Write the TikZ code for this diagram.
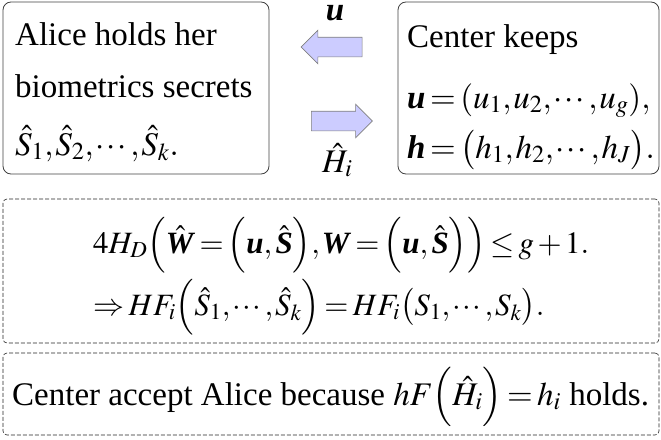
\documentclass[tikz,border=0pt]{standalone}
\usepackage{mathptmx}
\usepackage{amsmath}
\usepackage{fontspec}
\setmainfont{Liberation Serif}
\usetikzlibrary{shapes.arrows}

\definecolor{arrowfill}{RGB}{204,204,255}
\newcommand{\bvec}[1]{\textbf{\textit{#1}}}
\thickmuskip=2.5mu
\medmuskip=2mu
\thinmuskip=1mu

\tikzset{
	infobox/.style={draw=black!75, line width=0.8pt, rounded corners=8pt, inner sep=0pt},
	notebox/.style={draw=black!85, line width=0.6pt, dash pattern=on 4pt off 2pt, rounded corners=4pt, inner sep=0pt},
	sendarrow/.style={single arrow, draw=black!50, fill=arrowfill, line width=0.6pt, inner xsep=0pt, inner ysep=9.5pt,
		minimum height=61pt, single arrow head extend=7pt},
	txt/.style={anchor=base west, inner sep=0pt, font=\fontsize{33}{40}\selectfont},
	formula/.style={txt, font=\fontsize{31}{38}\selectfont},
}

\begin{document}
\begin{tikzpicture}[x=1pt, y=-1pt]
		\useasboundingbox (0,0) rectangle (661,439);
		% the two parties
		\node [infobox, minimum width=266pt, minimum height=172pt] (alice) at (136,88) {};
		\node [infobox, minimum width=261pt, minimum height=172pt] (center) at (528.5,88) {};
		\node [txt] (alicea) at (15,45) {Alice holds her};
		\node [txt] (aliceb) at (15,97) {biometrics secrets};
		\node [txt] (alicec) at (15,155) {$\hat{S}_1,\hat{S}_2,\cdots,\hat{S}_k.$};
		\node [txt] (centera) at (407,47) {Center keeps};
		\node [txt] (centerb) at (407,108) {$\bvec{u}=(u_1,u_2,\cdots,u_g),$};
		\node [txt] (centerc) at (407,158) {$\bvec{h}=\bigl(h_1,h_2,\cdots,h_J\bigr).$};
		% messages between them
		\node [sendarrow, shape border rotate=180] (sendu) at (336.5,47) {};
		\node [sendarrow] (sendh) at (337,121) {};
		\node [txt, anchor=base] (labu) at (335,20) {$\bvec{u}$};
		\node [txt] (labh) at (322,172) {$\hat{H}_i$};
		% the check
		\node [notebox, minimum width=656pt, minimum height=144pt] (check) at (331,271) {};
		\node [formula] (checka) at (93,253)
			{$4H_D\Bigl(\hat{\bvec{W}}=\Bigl(\bvec{u},\,\hat{\bvec{S}}\Bigr),\bvec{W}=\Bigl(\bvec{u},\,\hat{\bvec{S}}\Bigr)\Bigr)\le g+1.$};
		\node [formula] (checkb) at (93,315)
			{$\Rightarrow HF_i\Bigl(\hat{S}_1,\cdots,\hat{S}_k\Bigr)=HF_i\bigl(S_1,\cdots,S_k\bigr).$};
		% result
		\node [notebox, minimum width=656pt, minimum height=82pt] (result) at (331,394) {};
		\node [txt] (resulta) at (12,405) {Center accept Alice because $hF\Bigl(\hat{H}_i\Bigr)=h_i$ holds.};
	\end{tikzpicture}
\end{document}
